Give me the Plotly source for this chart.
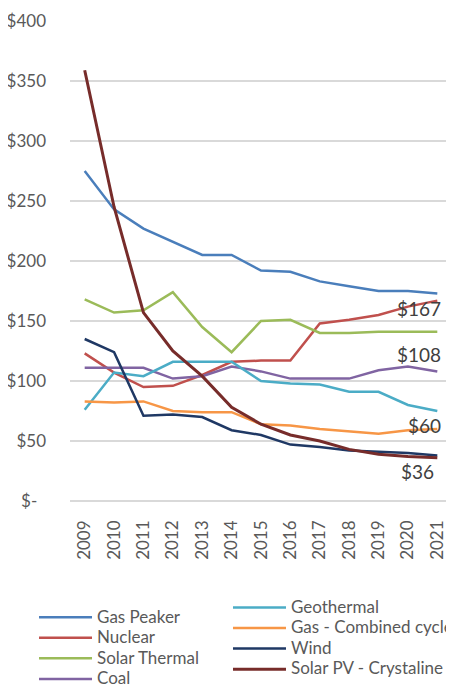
import plotly.graph_objects as go

years = ["2009", "2010", "2011", "2012", "2013", "2014", "2015",
         "2016", "2017", "2018", "2019", "2020", "2021"]

gas_peaker = [275, 243, 227, 216, 205, 205, 192, 191, 183, 179, 175, 175, 173]
nuclear = [123, 107, 95, 96, 105, 116, 117, 117, 148, 151, 155, 162, 167]
solar_thermal = [168, 157, 159, 174, 145, 124, 150, 151, 140, 140, 141, 141, 141]
coal = [111, 111, 111, 102, 104, 112, 108, 102, 102, 102, 109, 112, 108]
geothermal = [76, 107, 104, 116, 116, 116, 100, 98, 97, 91, 91, 80, 75]
gas_cc = [83, 82, 83, 75, 74, 74, 64, 63, 60, 58, 56, 59, 60]
wind = [135, 124, 71, 72, 70, 59, 55, 47, 45, 42, 41, 40, 38]
solar_pv = [359, 245, 157, 125, 104, 78, 64, 55, 50, 43, 39, 37, 36]

y_tick_vals = [0, 50, 100, 150, 200, 250, 300, 350, 400]
y_tick_text = ["$-\u00a0\u00a0", "$50", "$100", "$150", "$200", "$250", "$300", "$350", "$400"]

FONT = "Lato, 'Open Sans', sans-serif"

series = [
    ("Gas Peaker", gas_peaker, "#4a7ebb", 2.5, "legend"),
    ("Nuclear", nuclear, "#c0504d", 2.5, "legend"),
    ("Solar Thermal", solar_thermal, "#9bbb59", 2.5, "legend"),
    ("Coal", coal, "#8064a2", 2.5, "legend"),
    ("Geothermal", geothermal, "#4bacc6", 2.5, "legend2"),
    ("Gas - Combined cycle", gas_cc, "#f79646", 2.5, "legend2"),
    ("Wind", wind, "#1f3864", 2.5, "legend2"),
    ("Solar PV - Crystaline", solar_pv, "#772c2a", 3, "legend2"),
]

fig = go.Figure()
for name, vals, color, w, lg in series:
    fig.add_trace(go.Scatter(
        x=years, y=vals, mode="lines",
        name=f'<span style="font-size:17px">{name}</span>',
        line=dict(color=color, width=w),
        legend=lg,
    ))

# end-value labels (placed at last category index)
last = len(years) - 1
labels = [(nuclear, -8, 6), (coal, 17, 6), (gas_cc, 4, 6), (solar_pv, -14, -1)]
for vals, ys, xs in labels:
    fig.add_annotation(
        x=last, y=vals[-1], xref="x", yref="y",
        text=f"${vals[-1]}", showarrow=False,
        xanchor="right", yanchor="middle", xshift=xs, yshift=ys,
        font=dict(family=FONT, size=19, color="#404040"),
    )

fig.update_layout(
    width=446, height=679,
    margin=dict(l=62, r=2, t=13, b=186, autoexpand=False),
    paper_bgcolor="white", plot_bgcolor="white",
    font=dict(family=FONT, color="#595959"),
    xaxis=dict(
        type="category", range=[-0.5, 12.5], showgrid=False, showline=False,
        zeroline=False, tickangle=-90, ticks="",
        tickfont=dict(size=17, color="#595959"), ticklabelstandoff=15,
    ),
    yaxis=dict(
        range=[0, 400], tickvals=y_tick_vals, ticktext=y_tick_text,
        showgrid=True, gridcolor="#d9d9d9", gridwidth=1.5,
        zeroline=True, zerolinecolor="#d9d9d9", zerolinewidth=1.5,
        showline=False, ticks="",
        tickfont=dict(size=17, color="#595959"), ticklabelstandoff=23,
    ),
    legend=dict(
        x=-0.0942, y=-0.2104, xanchor="left", yanchor="top",
        bgcolor="rgba(0,0,0,0)", font=dict(size=13.5, color="#595959"),
        tracegroupgap=0, itemwidth=53,
    ),
    legend2=dict(
        x=0.4136, y=-0.19, xanchor="left", yanchor="top",
        bgcolor="rgba(0,0,0,0)", font=dict(size=13.5, color="#595959"),
        tracegroupgap=0, itemwidth=53,
    ),
    showlegend=True,
)

fig.write_html("out.html")
